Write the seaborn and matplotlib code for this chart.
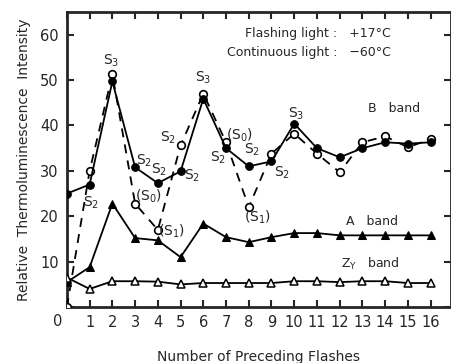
import numpy as np
import pandas as pd
import matplotlib
matplotlib.use("Agg")
import matplotlib.pyplot as plt
import seaborn as sns

# Valeurs
flashes = list(range(17))
b_band_filled = [25, 27, 49.7, 30.8, 27.3, 29.9, 45.9, 35, 31, 32.1, 40.4, 35, 33, 35, 36.3, 36, 36.3]
b_band_open = [0, 30, 51.3, 22.8, 17, 35.6, 47, 36.3, 22, 33.8, 38.2, 33.8, 29.7, 36.3, 37.6, 35.2, 37]
a_band = [5.5, 8.8, 22.8, 15.2, 14.7, 11, 18.4, 15.4, 14.3, 15.4, 16.3, 16.3, 15.8, 15.8, 15.8, 15.8, 15.8]
zy_band = [6.5, 4, 5.7, 5.7, 5.6, 5, 5.3, 5.3, 5.3, 5.3, 5.7, 5.7, 5.5, 5.7, 5.7, 5.3, 5.3]

# Annotations des états S
s_labels = ["S$_3$", "S$_3$", "S$_3$", "S$_2$", "S$_2$", "S$_2$", "S$_2$", "S$_2$",
            "S$_2$", "S$_2$", "S$_2$", "(S$_0$)", "(S$_0$)", "(S$_1$)", "(S$_1$)"]
s_x = [1.95, 6.0, 10.1, 1.05, 3.4, 4.05, 5.5, 4.45, 6.65, 8.15, 9.45, 3.6, 7.6, 4.6, 8.4]
s_y = [54.3, 50.4, 42.5, 23, 32.2, 30.2, 29, 37.3, 32.8, 34.6, 29.5, 24.5, 37.9, 16.7, 19.8]

sns.set_style("ticks")
plt.rcParams["font.family"] = ["DejaVu Sans"]

fig = plt.figure(figsize=(4.52, 3.63), dpi=100)
ax = fig.add_axes([0.148, 0.154, 0.85, 0.813])

df = pd.DataFrame({"n": flashes, "bf": b_band_filled, "bo": b_band_open,
                   "a": a_band, "zy": zy_band})

sns.lineplot(data=df, x="n", y="bo", ax=ax, color="black", lw=1.3,
             linestyle=(0, (5, 4)), marker="o", markersize=5.5,
             markerfacecolor="white", markeredgecolor="black", markeredgewidth=1.2,
             zorder=3)
sns.lineplot(data=df, x="n", y="bf", ax=ax, color="black", lw=1.3,
             marker="o", markersize=5.5, markerfacecolor="black",
             markeredgecolor="black", zorder=4)
sns.lineplot(data=df, x="n", y="a", ax=ax, color="black", lw=1.3,
             marker="^", markersize=6, markerfacecolor="black",
             markeredgecolor="black", zorder=4)
sns.lineplot(data=df, x="n", y="zy", ax=ax, color="black", lw=1.3,
             marker="^", markersize=6, markerfacecolor="white",
             markeredgecolor="black", markeredgewidth=1.1, zorder=4)

for lab, x, y in zip(s_labels, s_x, s_y):
    ax.text(x, y, lab, fontsize=10, ha="center", va="center")

ax.text(14.4, 43.8, "B   band", fontsize=9, ha="center", va="center")
ax.text(13.4, 18.8, "A   band", fontsize=9, ha="center", va="center")
ax.text(13.35, 9.5, "Z$_\\mathregular{Y}$   band", fontsize=9, ha="center", va="center")
ax.text(14.25, 60.3, "Flashing light :   +17°C", fontsize=9, ha="right", va="center")
ax.text(14.25, 56.0, "Continuous light :   \u221260°C", fontsize=9, ha="right", va="center")

ax.set_xlim(0, 16.9)
ax.set_ylim(0, 65)
ax.set_xticks(flashes)
ax.set_yticks([0, 10, 20, 30, 40, 50, 60])
ax.set_yticklabels(["", "10", "20", "30", "40", "50", "60"])
ax.tick_params(direction="in", top=True, right=True, length=5, width=1.5,
               labelsize=10.5, pad=6)
for s in ax.spines.values():
    s.set_linewidth(2)
fig.text(0.128, 0.115, "0", fontsize=10.5, ha="center", va="center")
ax.set_xticklabels([""] + [str(i) for i in flashes[1:]])

ax.set_xlabel("Number of Preceding Flashes", fontsize=10, labelpad=14)
ax.set_ylabel("Relative  Thermoluminescence  Intensity", fontsize=10, labelpad=6)

fig.savefig("out.png", dpi=100)
